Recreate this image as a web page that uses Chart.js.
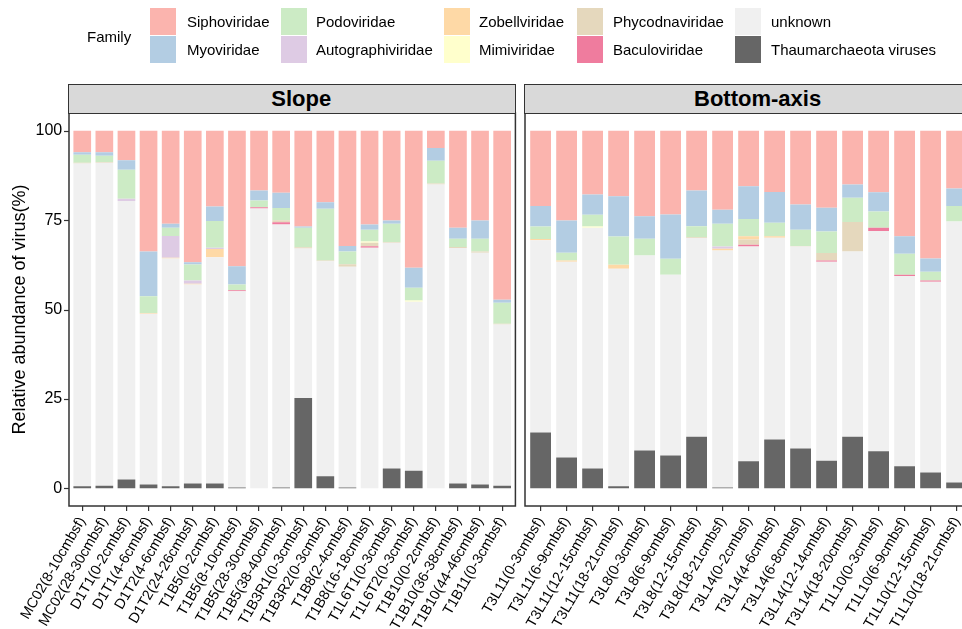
<!DOCTYPE html>
<html><head><meta charset="utf-8">
<script src="https://cdn.jsdelivr.net/npm/chart.js@4/dist/chart.umd.min.js"></script>
<style>
html,body{margin:0;padding:0;background:#fff;}
body{width:962px;height:629px;overflow:hidden;position:relative;font-family:"Liberation Sans",Arial,Helvetica,sans-serif;color:#000;}
canvas{position:absolute;top:0;}
#c1{left:0;}
#c2{left:440px;}
.strip{position:absolute;background:#d9d9d9;border:1.5px solid #333;box-sizing:border-box;font-weight:bold;font-size:22px;text-align:center;color:#000;display:flex;align-items:center;justify-content:center;padding-left:18px;}
.sw{position:absolute;width:26px;height:27px;}
.lt{position:absolute;font-size:15px;line-height:17px;white-space:nowrap;}
</style>
</head><body>
<canvas id="c1" width="520" height="629"></canvas>
<canvas id="c2" width="560" height="629"></canvas>
<div id="legend"></div>
<script>
// ---- data ----
const families = ["Siphoviridae","Myoviridae","Podoviridae","Autographiviridae","Zobellviridae","Mimiviridae","Phycodnaviridae","Baculoviridae","unknown","Thaumarchaeota viruses"];
const familyColors = ["#FBB4AE","#B3CDE3","#CCEBC5","#DECBE4","#FED9A6","#FFFFCC","#E5D8BD","#EF7C9E","#F0F0F0","#666666"];
const panelTitles = ["Slope","Bottom-axis"];
const yTicks = [0,25,50,75,100];

const slopeSamples = ["MC02(8-10cmbsf)","MC02(28-30cmbsf)","D1T1(0-2cmbsf)","D1T1(4-6cmbsf)","D1T2(4-6cmbsf)","D1T2(24-26cmbsf)","T1B5(0-2cmbsf)","T1B5(8-10cmbsf)","T1B5(28-30cmbsf)","T1B5(38-40cmbsf)","T1B3R1(0-3cmbsf)","T1B3R2(0-3cmbsf)","T1B8(2-4cmbsf)","T1B8(16-18cmbsf)","T1L6T1(0-3cmbsf)","T1L6T2(0-3cmbsf)","T1B10(0-2cmbsf)","T1B10(36-38cmbsf)","T1B10(44-46cmbsf)","T1B11(0-3cmbsf)"];
const slopeSipho   = [6.0,6.0,8.2,33.8,26.0,36.8,21.2,37.9,16.7,17.3,26.8,20.0,32.2,26.2,25.1,38.3,4.8,27.1,25.1,47.3];
const slopeMyo     = [0.7,1.0,2.7,12.5,1.1,0.6,4.0,5.1,2.8,4.3,0.3,1.8,1.6,1.5,0.9,5.6,3.6,3.1,5.1,0.8];
const slopePodo    = [2.2,1.7,8.1,4.7,2.3,4.5,7.5,1.6,1.9,3.4,5.5,14.5,3.5,3.3,5.1,3.6,6.3,2.3,3.6,5.9];
const slopeAuto    = [0,0,0.6,0,6.1,0.9,0.4,0,0,0,0,0,0,0,0,0,0,0,0,0];
const slopeZobell  = [0,0,0,0.2,0.2,0.2,2.3,0,0,0,0,0,0,0,0,0,0,0,0,0];
const slopeMimi    = [0,0,0,0,0,0,0,0,0,0,0,0,0,0.3,0,0.3,0,0,0,0];
const slopePhyco   = [0.2,0.2,0,0,0,0,0,0,0,0.6,0.3,0.2,0.7,1.0,0.2,0,0.3,0.3,0.3,0.2];
const slopeBaculo  = [0,0,0,0,0,0,0,0.3,0.3,0.6,0,0,0,0.4,0,0,0,0,0,0];
const slopeUnknown = [90.4,90.4,78.0,47.8,63.8,55.7,63.3,54.9,78.3,73.6,41.9,60.2,61.8,67.3,63.2,47.3,85.0,65.9,64.9,45.1];
const slopeThaum   = [0.5,0.7,2.4,1.0,0.5,1.3,1.3,0.2,0,0.2,25.2,3.3,0.2,0,5.5,4.9,0,1.3,1.0,0.7];

const bottomSamples = ["T3L11(0-3cmbsf)","T3L11(6-9cmbsf)","T3L11(12-15cmbsf)","T3L11(18-21cmbsf)","T3L8(0-3cmbsf)","T3L8(6-9cmbsf)","T3L8(12-15cmbsf)","T3L8(18-21cmbsf)","T3L14(0-2cmbsf)","T3L14(4-6cmbsf)","T3L14(6-8cmbsf)","T3L14(12-14cmbsf)","T3L14(18-20cmbsf)","T1L10(0-3cmbsf)","T1L10(6-9cmbsf)","T1L10(12-15cmbsf)","T1L10(18-21cmbsf)"];
const bottomSipho   = [21.0,25.1,17.8,18.3,23.9,23.4,16.7,22.1,15.5,17.1,20.6,21.5,15.0,17.2,29.5,35.7,16.1];
const bottomMyo     = [5.8,9.0,5.7,11.3,6.3,12.4,10.0,3.9,9.2,8.6,7.1,6.7,3.7,5.4,4.9,3.7,4.9];
const bottomPodo    = [3.5,2.2,3.3,7.9,4.7,4.5,3.1,6.4,4.8,3.8,4.5,6.0,6.8,4.5,5.9,2.5,4.4];
const bottomAuto    = [0,0,0,0,0,0,0,0.6,0,0,0,0,0,0,0,0,0];
const bottomZobell  = [0.3,0.3,0,1.1,0,0,0,0.5,0.9,0.4,0,0,0,0,0,0,0];
const bottomMimi    = [0,0,0.3,0,0,0,0,0,0,0,0,0,0,0,0,0,0];
const bottomPhyco   = [0,0,0,0,0,0,0.2,0,1.5,0,0.2,2.1,8.3,0,0,0,0];
const bottomBaculo  = [0,0,0,0,0,0,0,0,0.5,0,0,0.3,0,0.9,0.3,0.3,0];
const bottomUnknown = [53.8,54.8,67.4,60.9,54.6,50.6,55.6,66.3,60.1,56.5,56.5,55.7,51.8,61.7,53.3,53.4,73.0];
const bottomThaum   = [15.6,8.6,5.5,0.5,10.5,9.1,14.4,0.2,7.5,13.6,11.1,7.7,14.4,10.3,6.1,4.4,1.6];

// ---- build ----
function makeDatasets(series){
  // stacking order bottom->top: Thaum, unknown, Baculo, Phyco, Mimi, Zobell, Auto, Podo, Myo, Sipho
  const order = [9,8,7,6,5,4,3,2,1,0];
  return order.map(i => ({
    label: families[i],
    data: series[i],
    backgroundColor: familyColors[i],
    borderWidth: 0,
    barPercentage: 0.8,
    categoryPercentage: 1.0
  }));
}
const slopeSeries = [slopeSipho,slopeMyo,slopePodo,slopeAuto,slopeZobell,slopeMimi,slopePhyco,slopeBaculo,slopeUnknown,slopeThaum];
const bottomSeries = [bottomSipho,bottomMyo,bottomPodo,bottomAuto,bottomZobell,bottomMimi,bottomPhyco,bottomBaculo,bottomUnknown,bottomThaum];

const PANEL_TOP = 113, PANEL_BOTTOM = 506;

function panelRect(chart){
  const x = chart.scales.x, ca = chart.chartArea;
  const u = x.getPixelForValue(1) - x.getPixelForValue(0);
  return {left: ca.left - 0.1*u, right: ca.right + 0.1*u, top: ca.top, bottom: ca.bottom};
}
const borderPlugin = {
  id: 'panelBorder',
  afterDraw(chart){
    const ctx = chart.ctx, r = panelRect(chart);
    ctx.save();
    ctx.strokeStyle = '#333'; ctx.lineWidth = 1.5;
    ctx.strokeRect(r.left, r.top, r.right - r.left, r.bottom - r.top);
    if (chart.options.scales.y.display) {
      const y = chart.scales.y;
      ctx.lineWidth = 1.2;
      yTicks.forEach(v => {
        const py = Math.round(y.getPixelForValue(v)) + 0.5;
        ctx.beginPath(); ctx.moveTo(r.left - 5, py); ctx.lineTo(r.left, py); ctx.stroke();
      });
    }
    ctx.restore();
  }
};

function makeChart(id, labels, series, showY, padLeft, padRight){
  return new Chart(document.getElementById(id), {
    type: 'bar',
    data: { labels: labels, datasets: makeDatasets(series) },
    options: {
      responsive: false, animation: false,
      layout: { padding: { top: PANEL_TOP, left: padLeft, right: padRight, bottom: 0 } },
      plugins: { legend: { display: false }, tooltip: { enabled: false } },
      scales: {
        x: {
          stacked: true, offset: true,
          grid: { display: true, drawOnChartArea: false, drawTicks: true, tickLength: 5, color: '#333', lineWidth: 1.2, offset: false },
          border: { display: false },
          ticks: { autoSkip: false, minRotation: 60, maxRotation: 60, padding: 3, color: '#000', font: { family: '"Liberation Sans", Arial, sans-serif', size: 14.4 } },
          afterFit(s){ s.height = 629 - PANEL_BOTTOM; s.paddingLeft = 0; s.paddingRight = 0; }
        },
        y: {
          stacked: true, display: showY, min: -5, max: 105,
          grid: { display: false, drawTicks: false }, border: { display: false },
          afterBuildTicks(s){ s.ticks = yTicks.map(v => ({value: v})); },
          ticks: { padding: 9, color: '#000', font: { family: '"Liberation Sans", Arial, sans-serif', size: 16 } },
          title: { display: true, text: 'Relative abundance of virus(%)', color: '#000', padding: { top: 9, bottom: 0 }, font: { family: '"Liberation Sans", Arial, sans-serif', size: 18 } },
          afterFit(s){ s.width = showY ? 71.2 : 0; s.paddingTop = 0; s.paddingBottom = 0; }
        }
      }
    },
    plugins: [borderPlugin]
  });
}

const c1 = makeChart('c1', slopeSamples, slopeSeries, true, 0, 520 - 513.2);
const c2 = makeChart('c2', bottomSamples, bottomSeries, false, 527.6 - 440, 560 - (969.6 - 440));

// strips
[[c1,0,panelTitles[0]],[c2,440,panelTitles[1]]].forEach(([ch,off,txt]) => {
  const r = panelRect(ch);
  const d = document.createElement('div');
  d.className = 'strip';
  d.style.left = (off + r.left - 0.75) + 'px';
  d.style.width = (r.right - r.left + 1.5) + 'px';
  d.style.top = '84px';
  d.style.height = (r.top - 84 + 0.75) + 'px';
  d.textContent = txt;
  document.body.appendChild(d);
});

// legend
const leg = document.getElementById('legend');
const fam = document.createElement('div');
fam.className = 'lt'; fam.textContent = 'Family';
fam.style.left = '87px'; fam.style.top = '28px';
leg.appendChild(fam);
const colSw = [150,281,444,577,735], colTx = [187,316,479,613,771], rowTop = [8,36];
families.forEach((f,i) => {
  const c = Math.floor(i/2), r = i%2;
  const s = document.createElement('div');
  s.className = 'sw'; s.style.left = colSw[c]+'px'; s.style.top = rowTop[r]+'px'; s.style.background = familyColors[i];
  leg.appendChild(s);
  const t = document.createElement('div');
  t.className = 'lt'; t.textContent = f;
  t.style.left = colTx[c]+'px'; t.style.top = (rowTop[r]+5)+'px';
  leg.appendChild(t);
});
</script>
</body></html>
